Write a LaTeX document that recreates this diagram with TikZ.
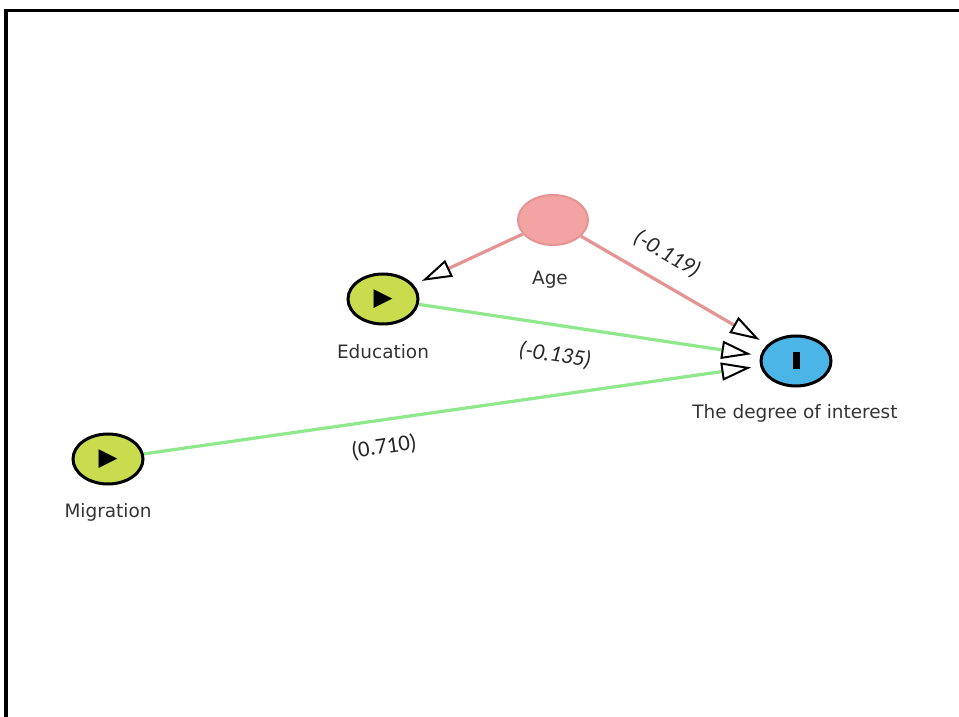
\documentclass[tikz,border=0pt]{standalone}
\usepackage{fontspec}
\setmainfont{DejaVu Sans}
\newfontfamily\coeffont{Carlito}
\usepackage{tikz}
\usetikzlibrary{arrows.meta}
\usetikzlibrary{shapes.geometric}

\definecolor{agefill}{HTML}{F4A3A3}
\definecolor{ageline}{HTML}{E59494}
\definecolor{inputfill}{HTML}{C9DC4E}
\definecolor{inputline}{HTML}{90E88D}
\definecolor{outfill}{HTML}{4CB5E8}

\tikzset{
  var/.style={shape=ellipse, minimum width=14mm, minimum height=10mm, inner sep=0pt, line width=0.6mm},
  varname/.style={text=black!80, font=\fontsize{10.5}{12}\selectfont},
  coef/.style={-{Triangle[open, length=6mm, width=3.6mm, line width=0.4mm, color=black]}, line width=0.65mm, shorten >=1.8mm},
  coeflabel/.style={font=\coeffont\fontsize{13}{14}\selectfont, text=black!85}
}

\begin{document}
\begin{tikzpicture}[x=0.2mm,y=-0.2mm]
\useasboundingbox (0,0) rectangle (959,717);
\draw[line width=0.6mm] (6,717) |- (959,11);

\node[var, fill=agefill, draw=ageline, line width=0.4mm] (age) at (553,220) {};
\node[var, fill=inputfill, draw=black] (edu) at (383,299) {\fontsize{14}{14}\selectfont ▶};
\node[var, fill=inputfill, draw=black] (mig) at (108,459) {\fontsize{14}{14}\selectfont ▶};
\node[var, fill=outfill, draw=black] (doi) at (796,361) {\rule{1.4mm}{3.4mm}};

\node[varname] (agename) at (550,280) {Age};
\node[varname] (eduname) at (383,352) {Education};
\node[varname] (migname) at (108,512) {Migration};
\node[varname] (doiname) at (795,413) {The degree of interest};

\draw [coef, draw=ageline] (age) edge (edu);
\draw [coef, draw=ageline] (age) edge (doi);
\draw [coef, draw=inputline] (edu) edge (doi);
\draw [coef, draw=inputline] (mig) edge (doi);

\node[coeflabel, rotate=-30] (c1) at (667,254) {\itshape(-0.119)};
\node[coeflabel, rotate=-8.5] (c2) at (555,355) {\itshape(-0.135)};
\node[coeflabel, rotate=8] (c3) at (384,447) {(0.710)};
\end{tikzpicture}
\end{document}
